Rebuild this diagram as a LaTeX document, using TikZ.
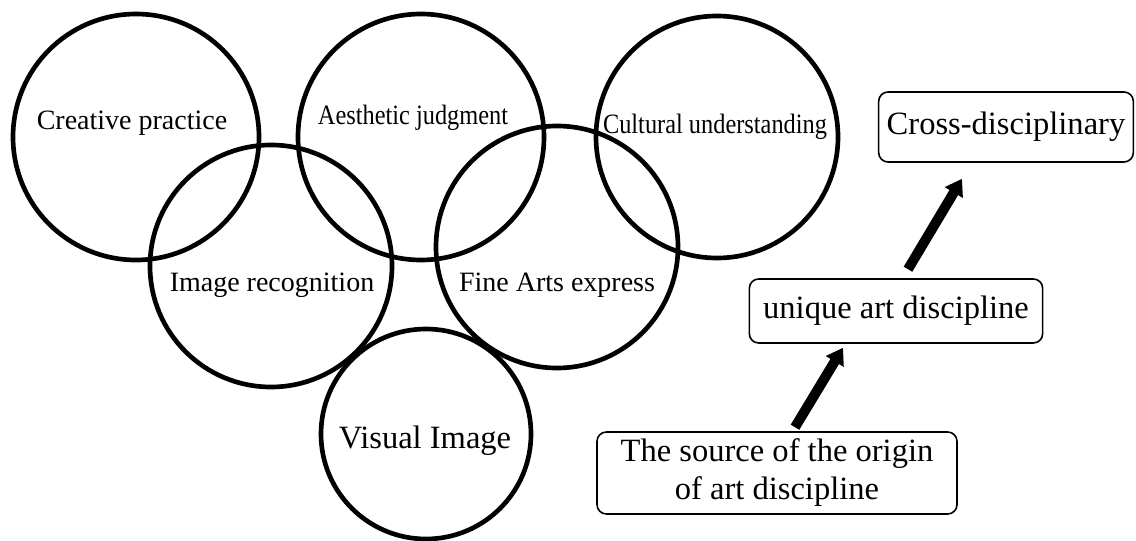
\documentclass[tikz,border=0pt]{standalone}
\usepackage{fontspec}
\usepackage{graphicx}
\setmainfont{Liberation Serif}
\usetikzlibrary{arrows.meta, calc}
\tikzset{
	ring/.style={draw, circle, line width=3.5pt, inner sep=0pt},
	word/.style={font=\fontsize{21}{25}\selectfont},
	stage/.style={draw, rectangle, rounded corners=7pt, line width=1.2pt, align=center, inner sep=2pt, font=\fontsize{24.4}{28.5}\selectfont},
}
% narrower labels in two of the circles
\newcommand{\squeeze}[1]{\scalebox{0.87}[1]{#1}}

\begin{document}
\begin{tikzpicture}[x=0.75pt, y=-0.75pt]
	\useasboundingbox (0,0) rectangle (1136,541);
	
	% circles
	\node (creative) [ring, minimum size=184.5pt] at (136,137) {};
	\node (aesthetic) [ring, minimum size=184.5pt] at (421,137) {};
	\node (cultural) [ring, minimum size=181.5pt] at (717,137) {};
	\node (recog) [ring, minimum size=181.5pt] at (271,266) {};
	\node (fine) [ring, minimum size=181.5pt] at (557,247) {};
	\node (visual) [ring, minimum size=157.5pt] at (426,434) {};
	
	% circle labels
	\node (creativeT) [word] at (132,123) {Creative practice};
	\node (aestheticT) [word] at (413,118) {\squeeze{Aesthetic judgment}};
	\node (culturalT) [word] at (715,127) {\squeeze{Cultural understanding}};
	\node (recogT) [word] at (272,285) {Image recognition};
	\node (fineT) [word] at (557,285) {Fine Arts express};
	\node (visualT) [font=\fontsize{24.4}{28.5}\selectfont] at (425,441) {Visual Image};
	
	% boxes
	\node (cross) [stage, minimum width=191pt, minimum height=52.5pt] at (1006,127) {Cross-disciplinary};
	\node (uniq) [stage, minimum width=220pt, minimum height=48pt] at (896,311) {unique art discipline};
	\node (src) [stage, minimum width=270pt, minimum height=61.5pt] at (777,473) {The source of the origin\\of art discipline};
	
	\begin{scope}[line width=7.5pt, -{Triangle[width=15pt, length=12pt]}]
		\draw ($(src.north)+(18,-4)$) -- ($(uniq.south)+(-53,4)$);
		\draw ($(uniq.north)+(12,-9)$) -- ($(cross.south)+(-44,16)$);
	\end{scope}
\end{tikzpicture}
\end{document}
